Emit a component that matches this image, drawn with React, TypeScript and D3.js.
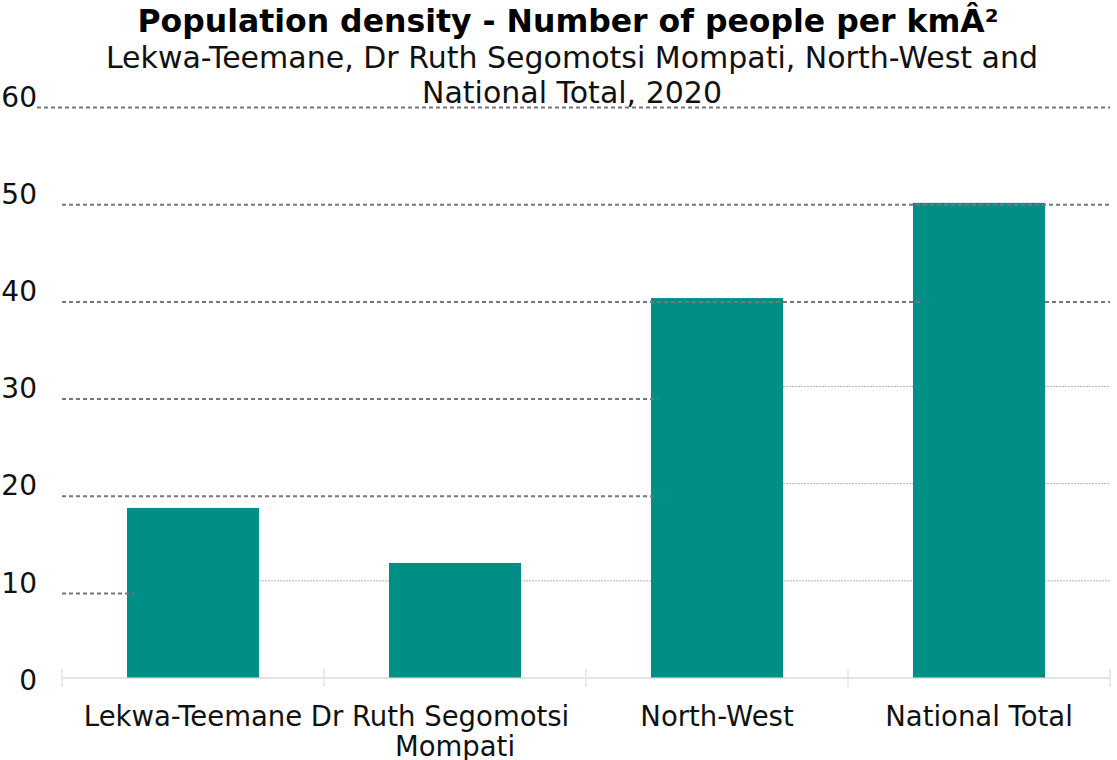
import React from "react";
import * as d3 from "d3";

// Population density, people per km², 2020
const categories = ["Lekwa-Teemane", "Dr Ruth Segomotsi Mompati", "North-West", "National Total"];
const categoryLines = [["Lekwa-Teemane"], ["Dr Ruth Segomotsi", "Mompati"], ["North-West"], ["National Total"]];
const densities = [17.5, 11.84, 39.1, 48.9];
const yTicks = [0, 10, 20, 30, 40, 50, 60];

const titleText = "Population density - Number of people per kmÂ²";
const subtitleLines = ["Lekwa-Teemane, Dr Ruth Segomotsi Mompati, North-West and", "National Total, 2020"];

// Grid lines: light ones start at the right edge of a bar (index);
// dashed ones are listed as spans, each end either a bar edge or the plot edge.
const lightGrid = [
  { v: 10, fromBar: 0 },
  { v: 20, fromBar: 2 },
  { v: 30, fromBar: 2 },
];
type End = "plotLeft" | "plotRight" | "labels" | { barLeft: number } | { barRight: number };
const dashedGrid: { v: number; spans: [End, End][] }[] = [
  { v: 60, spans: [["labels", "plotRight"]] },
  { v: 50, spans: [["plotLeft", "plotRight"]] },
  { v: 40, spans: [["plotLeft", { barLeft: 3 }], [{ barRight: 3 }, "plotRight"]] },
  { v: 30, spans: [["plotLeft", { barLeft: 2 }]] },
  { v: 20, spans: [["plotLeft", { barLeft: 2 }]] },
  { v: 10, spans: [["plotLeft", { barLeft: 0 }]] },
];

const W = 1117;
const H = 760;
const margin = { left: 62, right: 7, top: 95, bottom: 82 };
const FONT = "'DejaVu Sans', Verdana, sans-serif";
const TEAL = "#008e87";

export default function App() {
  const x = d3
    .scaleBand<string>()
    .domain(categories)
    .range([margin.left, W - margin.right])
    .paddingInner(0.496)
    .paddingOuter(0.248);
  const y = d3.scaleLinear().domain([0, 60]).range([H - margin.bottom, margin.top]);
  const bw = x.bandwidth();
  const step = x.step();
  const plotLeft = margin.left;
  const plotRight = W - margin.right;
  const labelRight = 37;
  const dashShift = 12.6;
  const dashOverrun = 7;

  const endX = (e: End) => {
    if (e === "plotLeft") return plotLeft;
    if (e === "plotRight") return plotRight;
    if (e === "labels") return labelRight;
    if ("barLeft" in e) return (x(categories[e.barLeft]) as number) + dashOverrun;
    return (x(categories[e.barRight]) as number) + bw;
  };

  const bar = (i: number) => (
    <rect
      key={"b" + i}
      x={x(categories[i])}
      y={y(densities[i])}
      width={bw}
      height={y(0) - y(densities[i])}
      fill={TEAL}
    />
  );

  const boundaries = d3.range(categories.length + 1).map((i) => plotLeft + i * step);

  return (
    <svg
      width={W}
      height={H}
      style={{ position: "absolute", left: 0, top: 0, background: "#fff" }}
      fontFamily={FONT}
    >
      {/* light grid lines behind the bars */}
      {lightGrid.map((g) => (
        <line
          key={"l" + g.v}
          x1={(x(categories[g.fromBar]) as number) + bw}
          x2={plotRight}
          y1={y(g.v)}
          y2={y(g.v)}
          stroke="#b5b5b5"
          strokeWidth={1}
          strokeDasharray="2,1"
        />
      ))}

      {categories.map((_, i) => bar(i))}

      {/* dashed grid lines */}
      {dashedGrid.map((g) =>
        g.spans.map((s, j) => (
          <line
            key={"d" + g.v + "-" + j}
            x1={endX(s[0])}
            x2={endX(s[1])}
            y1={y(g.v) + dashShift}
            y2={y(g.v) + dashShift}
            stroke="#777"
            strokeWidth={2}
            strokeDasharray="4,3"
          />
        ))
      )}

      {/* x axis */}
      <line x1={plotLeft} x2={plotRight} y1={y(0)} y2={y(0)} stroke="rgba(210,210,210,0.6)" strokeWidth={2} />
      {boundaries.map((bx, i) => (
        <line key={"t" + i} x1={bx} x2={bx} y1={y(0) - 9} y2={y(0) + 9} stroke="#e3e3e3" strokeWidth={1.5} />
      ))}

      {/* y tick labels */}
      {yTicks.map((t) => (
        <text key={"y" + t} x={labelRight} y={y(t) + 2} dy="0.35em" textAnchor="end" fontSize={28} fill="#111">
          {t}
        </text>
      ))}

      {/* category labels */}
      {categoryLines.map((lines, i) => (
        <text key={"x" + i} textAnchor="middle" fontSize={27.5} fill="#111">
          {lines.map((ln, k) => (
            <tspan
              key={k}
              x={(x(categories[i]) as number) + bw / 2 + (lines.length > 1 && k === 0 ? -15 : 0)}
              y={y(0) + 48 + k * 30}
            >
              {ln}
            </tspan>
          ))}
        </text>
      ))}

      {/* title and subtitle */}
      <text x={568} y={32} textAnchor="middle" fontSize={31.5} fontWeight="bold" fill="#000">
        {titleText}
      </text>
      {subtitleLines.map((s, i) => (
        <text key={"s" + i} x={572} y={68 + i * 35} textAnchor="middle" fontSize={30} fill="#111">
          {s}
        </text>
      ))}
    </svg>
  );
}
